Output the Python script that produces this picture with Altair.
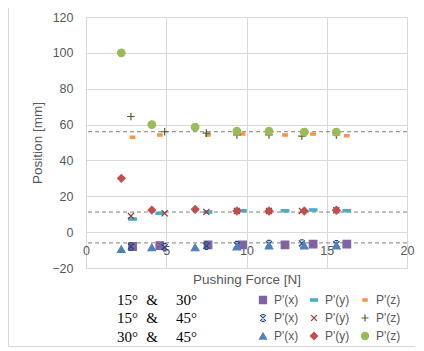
import altair as alt
import pandas as pd

# ---------------- data ----------------
series_keys = ["15&30 P'(x)", "15&30 P'(y)", "15&30 P'(z)",
               "15&45 P'(x)", "15&45 P'(y)", "15&45 P'(z)",
               "30&45 P'(x)", "30&45 P'(y)", "30&45 P'(z)"]

force_1530 = [2.9, 4.6, 7.6, 9.75, 12.4, 14.15, 16.25]
px_1530 = [-8.0, -7.5, -7.1, -7.1, -7.1, -6.7, -6.7]
py_1530 = [7.3, 10.6, 11.3, 11.9, 11.9, 12.4, 11.9]
pz_1530 = [52.9, 54.2, 54.2, 54.7, 54.2, 54.7, 53.8]

force_1545 = [2.8, 4.9, 7.5, 9.4, 11.4, 13.45, 15.6]
px_1545 = [-8.0, -8.4, -7.6, -7.2, -6.6, -6.3, -6.8]
py_1545 = [9.0, 10.5, 11.3, 11.8, 11.8, 11.8, 12.2]
pz_1545 = [64.5, 56.0, 55.2, 54.2, 54.2, 53.6, 54.2]

force_3045 = [2.2, 4.1, 6.8, 9.4, 11.4, 13.6, 15.6]
px_3045 = [-9.5, -8.5, -8.5, -8.0, -7.5, -7.5, -7.5]
py_3045 = [30.0, 12.3, 12.7, 11.8, 11.8, 11.8, 12.2]
pz_3045 = [100.0, 60.0, 58.6, 56.3, 56.3, 55.8, 55.8]

ref_levels = [56.0, 11.2, -6.0]

group_first = ["15°", "15°", "30°"]
group_second = ["30°", "45°", "45°"]

x_ticks = [0, 5, 10, 15, 20]
y_ticks = [-20, 0, 20, 40, 60, 80, 100, 120]

# ---------------- build tables ----------------
rows = []
blocks = [
    (force_1530, [px_1530, py_1530, pz_1530], series_keys[0:3]),
    (force_1545, [px_1545, py_1545, pz_1545], series_keys[3:6]),
    (force_3045, [px_3045, py_3045, pz_3045], series_keys[6:9]),
]
for force, vals, keys in blocks:
    for v, k in zip(vals, keys):
        for f, p in zip(force, v):
            rows.append({"force": f, "pos": p, "key": k})
df = pd.DataFrame(rows)

ref_df = pd.DataFrame({"level": ref_levels})
grp_df = pd.DataFrame({"row": [0, 1, 2], "a": group_first, "b": group_second})

colors = ["#8064A2", "#4BACC6", "#F79646",
          "#1F497D", "#943634", "#4F6228",
          "#4F81BD", "#C0504D", "#9BBB59"]
dash_long = "M-1,-0.3H1V0.3H-1Z"
dash_short = "M-0.6,-0.3H0.6V0.3H-0.6Z"
star = "M-0.8,-0.8L0.8,0.8M0.8,-0.8L-0.8,0.8M-0.45,-0.95H0.45M-0.45,0.95H0.45"
xmark = "M-0.8,-0.8L0.8,0.8M0.8,-0.8L-0.8,0.8"
plus = "M0,-1V1M-1,0H1"
shapes = ["square", dash_long, dash_short, star, xmark, plus,
          "triangle-up", "diamond", "circle"]

W, H = 321, 251
GRID = "#D9D9D9"
TXT = "#595959"
FONT = "Liberation Sans"

legend = alt.Legend(
    orient="none", legendX=171, legendY=277, columns=3, direction="horizontal",
    gridAlign="all", title=None, labelExpr="slice(datum.label, 6)",
    symbolSize=50, symbolStrokeWidth=1.2, labelFont=FONT, labelFontSize=12,
    labelColor=TXT, columnPadding=9, rowPadding=6, labelOffset=5,
)

xs = alt.Scale(domain=[0, 20], nice=False)
ys = alt.Scale(domain=[-20, 120], nice=False)

rules = alt.Chart(ref_df).mark_rule(
    color="#808080", strokeDash=[4, 3], strokeWidth=1
).encode(y=alt.Y("level:Q", scale=ys))

points = alt.Chart(df).mark_point(
    filled=True, size=58, strokeWidth=1.2, opacity=1
).encode(
    x=alt.X("force:Q", scale=xs, axis=alt.Axis(
        values=x_ticks, tickCount=len(x_ticks), title="Pushing Force [N]",
        offset=-36, domain=False, ticks=False, tickSize=0, labelPadding=12,
        titlePadding=16, labelOverlap=False, labelFlush=False, grid=True,
        gridColor=GRID, labelFont=FONT, labelFontSize=12.5, labelColor=TXT,
        titleFont=FONT, titleFontSize=13.5, titleFontWeight="normal",
        titleColor=TXT)),
    y=alt.Y("pos:Q", scale=ys, axis=alt.Axis(
        values=y_ticks, tickCount=len(y_ticks), title="Position [mm]",
        domain=False, ticks=False, tickSize=0, labelPadding=13, titlePadding=7,
        labelOverlap=False, labelFlush=False, grid=True, gridColor=GRID,
        labelFont=FONT, labelFontSize=12.5, labelColor=TXT, titleFont=FONT,
        titleFontSize=13.5, titleFontWeight="normal", titleColor=TXT)),
    color=alt.Color("key:N", scale=alt.Scale(domain=series_keys, range=colors),
                    legend=legend, sort=series_keys),
    stroke=alt.Stroke("key:N", scale=alt.Scale(domain=series_keys, range=colors),
                      legend=legend, sort=series_keys),
    shape=alt.Shape("key:N", scale=alt.Scale(domain=series_keys, range=shapes),
                    legend=legend, sort=series_keys),
)

main = alt.layer(rules, points)

gy = alt.Y("row:Q", scale=alt.Scale(domain=[0, 2], range=[283, 319.6]), axis=None)
txt_style = dict(font="Liberation Serif", fontSize=15, color="#000000", baseline="middle")
t1 = alt.Chart(grp_df).mark_text(align="left", **txt_style).encode(
    x=alt.value(31), y=gy, text="a:N")
t2 = alt.Chart(grp_df).mark_text(align="center", **txt_style).encode(
    x=alt.value(66), y=gy, text=alt.value("&"))
t3 = alt.Chart(grp_df).mark_text(align="left", **txt_style).encode(
    x=alt.value(90), y=gy, text="b:N")

border_bottom = alt.Chart(grp_df).mark_rule(color=GRID, strokeWidth=1).encode(
    x=alt.value(-78), x2=alt.value(330), y=alt.value(329.5))
border_left = alt.Chart(grp_df).mark_rule(color=GRID, strokeWidth=1).encode(
    x=alt.value(-77.5), y=alt.value(-9), y2=alt.value(329.5))

labels = alt.layer(t1, t2, t3, border_bottom, border_left)

chart = alt.layer(main, labels).resolve_scale(y="independent").properties(
    width=W, height=H,
    autosize=alt.AutoSizeParams(type="none"),
    padding={"left": 78, "top": 9, "right": 8, "bottom": 83},
).configure_view(stroke=None).configure(background="white")

chart.save("out.html", embed_options={"renderer": "svg", "actions": False})
